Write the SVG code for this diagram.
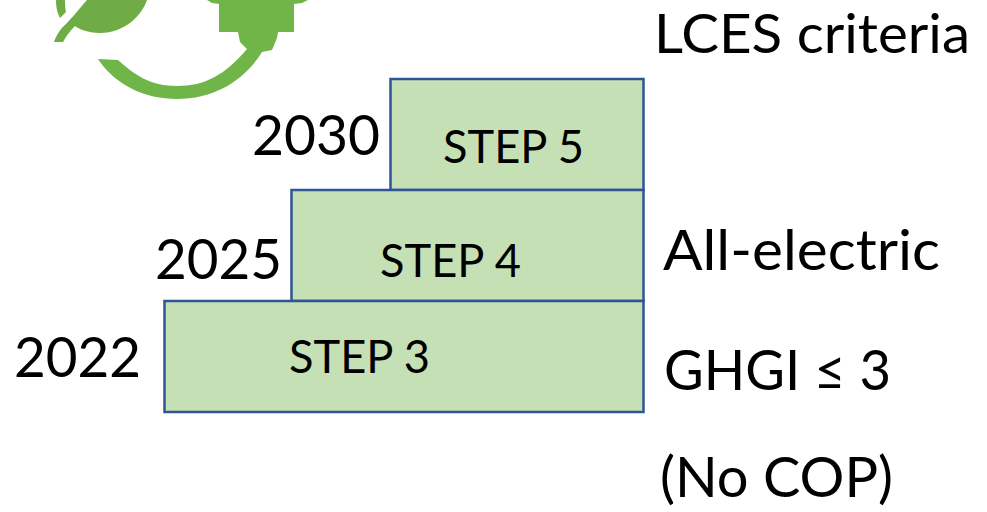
<svg xmlns="http://www.w3.org/2000/svg" width="987" height="512" viewBox="0 0 987 512">
<style>
text{font-family:Lato,"Open Sans","Liberation Sans",sans-serif;fill:#000}
.b{fill:#c5e0b4;stroke:#2f5597;stroke-width:2.5}
.s{font-size:46px}
.l{font-size:56px}
.t{font-size:54px}
.leaf{fill:#6fac46}
.plug{fill:#70b548}
</style>
<rect width="987" height="512" fill="#fff"/>
<g id="logo">
<path class="leaf" d="M56 0 C56 7 57 13 60 18 L66 12 C65 8 65 4 65 0Z"/>
<path class="leaf" d="M87 0 C80 8 72 18 66 24 C60 29 56 36 54 42 L63 42 C66 36 70 31 75 26 C80 30 90 33 100 33 C125 33 142 15 147 0 Z"/>
<path class="plug" d="M207 0 L212 3 L219 4 V32 H238 L240 42 L247 49 C225 75 205 86 177 86 C150 86 135 75 118 60 L98 59 C115 85 145 99 177 99 C215 99 245 80 262 52 L272 50 L277 38 L278 32 H294 V4 L302 3 L308 0Z"/>
</g>
<g id="step5"><rect class="b" x="390.500" y="79" width="253" height="111"/><text class="s" x="443" y="163" textLength="141" lengthAdjust="spacingAndGlyphs">STEP 5</text></g>
<g id="step4"><rect class="b" x="291.500" y="190" width="352" height="111"/><text class="s" x="380" y="277" textLength="141" lengthAdjust="spacingAndGlyphs">STEP 4</text></g>
<g id="step3"><rect class="b" x="164.500" y="301" width="479" height="111"/><text class="s" x="289" y="373" textLength="141" lengthAdjust="spacingAndGlyphs">STEP 3</text></g>
<g id="labels">
<text class="t" x="654" y="53" textLength="316" lengthAdjust="spacingAndGlyphs">LCES criteria</text>
<text class="l" x="252" y="155" textLength="128" lengthAdjust="spacingAndGlyphs">2030</text>
<text class="l" x="155" y="279" textLength="127" lengthAdjust="spacingAndGlyphs">2025</text>
<text class="l" x="14" y="377" textLength="127" lengthAdjust="spacingAndGlyphs">2022</text>
<text class="l" x="663" y="270" textLength="277" lengthAdjust="spacingAndGlyphs">All-electric</text>
<text class="l" x="664" y="390" textLength="227" lengthAdjust="spacingAndGlyphs">GHGI ≤ 3</text>
<text class="l" x="660" y="497" textLength="233" lengthAdjust="spacingAndGlyphs">(No COP)</text>
</g>
</svg>
